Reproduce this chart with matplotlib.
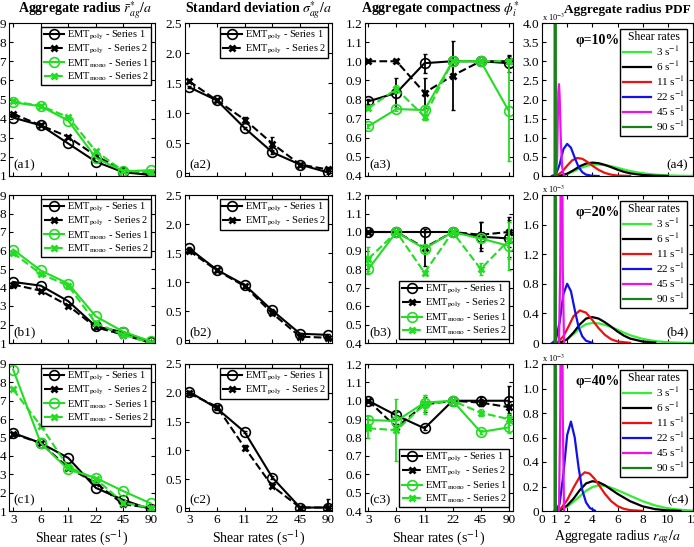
import numpy as np
import matplotlib
matplotlib.use('Agg')
import matplotlib.pyplot as plt

plt.rcParams['font.family'] = ['Liberation Serif', 'DejaVu Serif']
plt.rcParams['mathtext.fontset'] = 'stix'
plt.rcParams['font.size'] = 9.5

# shear rate categories
shear = ['3', '6', '11', '22', '45', '90']
xpos = np.arange(1, 7)

# ---- column 1: aggregate radius (rows a, b, c) ----
rad_poly1 = [[4.05, 3.65, 2.7, 1.75, 1.2, 1.05],
             [4.3, 4.1, 3.26, 1.9, 1.58, 1.05],
             [5.25, 4.7, 3.89, 2.26, 1.6, 1.09]]
rad_poly2 = [[4.25, 3.65, 3.05, 2.05, 1.3, 1.1],
             [4.16, 3.83, 3.02, 1.85, 1.45, 1.0],
             [5.2, 4.7, 3.35, 2.53, 1.36, 1.18]]
rad_mono1 = [[4.85, 4.65, 3.9, 1.95, 1.25, 1.3],
             [6.05, 4.92, 4.21, 2.44, 1.61, 1.09],
             [8.7, 4.7, 3.26, 2.8, 2.08, 1.41]]
rad_mono2 = [[4.9, 4.67, 4.08, 2.3, 1.26, 1.2],
             [5.87, 4.74, 4.1, 2.08, 1.45, 1.0],
             [7.62, 5.64, 3.4, 2.75, 1.45, 1.18]]

# ---- column 2: standard deviation ----
std_poly1 = [[1.43, 1.21, 0.75, 0.345, 0.14, 0.01],
             [1.58, 1.21, 0.95, 0.51, 0.11, 0.09],
             [2.02, 1.73, 1.32, 0.53, 0.01, 0.01]]
std_poly2 = [[1.53, 1.21, 0.89, 0.49, 0.14, 0.06],
             [1.54, 1.2, 0.93, 0.46, 0.06, 0.04],
             [1.99, 1.76, 1.05, 0.38, 0.01, 0.01]]
std_err1 = [[0.02, 0.02, 0.02, 0.02, 0.02, 0.03],
            [0.02, 0.02, 0.02, 0.02, 0.02, 0.02],
            [0.02, 0.02, 0.02, 0.02, 0.02, 0.14]]
std_err2 = [[0.02, 0.02, 0.04, 0.11, 0.02, 0.02],
            [0.02, 0.02, 0.02, 0.02, 0.02, 0.02],
            [0.02, 0.02, 0.04, 0.02, 0.02, 0.02]]

# ---- column 3: compactness ----
cmp_poly1 = [[0.79, 0.835, 0.99, 1.0, 1.0, 0.99],
             [1.0, 1.0, 1.0, 1.0, 0.975, 0.965],
             [1.0, 0.92, 0.85, 1.0, 1.0, 1.0]]
cmp_poly2 = [[1.0, 1.0, 0.835, 0.925, 1.0, 1.0],
             [1.0, 1.0, 0.915, 1.0, 0.985, 1.0],
             [1.0, 0.855, 0.98, 1.0, 0.99, 0.965]]
cmp_mono1 = [[0.66, 0.75, 0.745, 1.0, 1.0, 0.74],
             [0.80, 1.0, 0.91, 1.0, 0.965, 0.925],
             [0.895, 0.89, 0.99, 1.0, 0.83, 0.855]]
cmp_mono2 = [[0.755, 0.855, 0.71, 1.0, 1.0, 1.0],
             [0.855, 1.0, 0.78, 1.0, 0.80, 0.955],
             [0.85, 0.84, 0.98, 1.0, 0.935, 0.90]]
cmp_err_p1 = [[0.015, 0.075, 0.05, 0.0, 0.0, 0.045],
              [0.0, 0.0, 0.0, 0.0, 0.08, 0.1],
              [0.0, 0.02, 0.01, 0.0, 0.02, 0.08]]
cmp_err_p2 = [[0.0, 0.01, 0.08, 0.18, 0.0, 0.03],
              [0.0, 0.0, 0.1, 0.0, 0.07, 0.08],
              [0.0, 0.02, 0.04, 0.0, 0.02, 0.03]]
cmp_err_m1 = [[0.01, 0.01, 0.02, 0.0, 0.0, 0.26],
              [0.02, 0.0, 0.02, 0.0, 0.02, 0.13],
              [0.02, 0.02, 0.04, 0.0, 0.01, 0.03]]
cmp_err_m2 = [[0.01, 0.02, 0.015, 0.0, 0.0, 0.01],
              [0.065, 0.0, 0.01, 0.0, 0.03, 0.1],
              [0.05, 0.17, 0.05, 0.0, 0.02, 0.03]]

# ---- column 4: radius PDFs (x in units of a, y in 1e-3) ----
pdf_labels = ['3 s$^{-1}$', '6 s$^{-1}$', '11 s$^{-1}$', '22 s$^{-1}$', '45 s$^{-1}$', '90 s$^{-1}$']
pdf_colors = ['#33ee33', 'black', '#ee1111', '#1111ee', '#ee11ee', '#1a801a']
phi_labels = ['φ=10%', 'φ=20%', 'φ=40%']

pdf_a = [
    ([1.0, 1.5, 2.0, 2.5, 3.0, 3.5, 4.0, 4.5, 5.0, 5.5, 6.0, 6.5, 7.0, 8.0, 9.0, 10.0, 11.0, 12.0],
     [0, 0.01, 0.05, 0.12, 0.20, 0.26, 0.295, 0.30, 0.285, 0.255, 0.215, 0.17, 0.13, 0.07, 0.035, 0.015, 0.006, 0.002]),
    ([1.0, 1.5, 2.0, 2.5, 3.0, 3.5, 4.0, 4.5, 5.0, 5.5, 6.0, 6.5, 7.0, 8.0, 9.0, 10.0],
     [0, 0.01, 0.06, 0.15, 0.255, 0.325, 0.35, 0.335, 0.29, 0.23, 0.165, 0.11, 0.07, 0.025, 0.007, 0.001]),
    ([0.8, 1.2, 1.6, 2.0, 2.4, 2.8, 3.2, 3.6, 4.0, 4.5, 5.0, 5.5, 6.0, 7.0],
     [0, 0.02, 0.11, 0.27, 0.41, 0.47, 0.45, 0.37, 0.27, 0.16, 0.08, 0.035, 0.012, 0.001]),
    ([0.8, 1.1, 1.4, 1.7, 2.0, 2.3, 2.6, 2.9, 3.2, 3.5, 4.0, 4.5],
     [0, 0.04, 0.3, 0.7, 0.84, 0.74, 0.48, 0.24, 0.1, 0.035, 0.005, 0]),
    ([1.1, 1.2, 1.25, 1.3, 1.35, 1.4, 1.45, 1.5, 1.6, 1.7, 1.8],
     [0, 0.45, 1.4, 2.2, 2.4, 2.1, 1.5, 0.9, 0.25, 0.04, 0]),
    ([1.0, 1.03, 1.07, 1.1], [0, 40, 40, 0]),
]
pdf_b = [
    ([1.0, 1.5, 2.0, 2.5, 3.0, 3.5, 4.0, 4.5, 5.0, 5.5, 6.0, 6.5, 7.0, 8.0, 9.0, 10.0, 11.0, 12.0],
     [0, 0.01, 0.05, 0.12, 0.2, 0.255, 0.27, 0.265, 0.245, 0.215, 0.18, 0.14, 0.105, 0.055, 0.025, 0.01, 0.004, 0.001]),
    ([1.0, 1.5, 2.0, 2.5, 3.0, 3.5, 4.0, 4.5, 5.0, 5.5, 6.0, 6.5, 7.0, 8.0, 9.0],
     [0, 0.01, 0.05, 0.14, 0.25, 0.33, 0.35, 0.33, 0.28, 0.22, 0.155, 0.1, 0.06, 0.02, 0.005]),
    ([0.9, 1.3, 1.7, 2.1, 2.5, 3.0, 3.5, 4.0, 4.5, 5.0, 5.5, 6.0, 7.0],
     [0, 0.02, 0.09, 0.22, 0.36, 0.44, 0.41, 0.31, 0.2, 0.11, 0.05, 0.02, 0.002]),
    ([0.8, 1.1, 1.4, 1.7, 2.0, 2.3, 2.6, 2.9, 3.2, 3.5, 4.0],
     [0, 0.04, 0.28, 0.66, 0.8, 0.7, 0.45, 0.22, 0.09, 0.03, 0.003]),
    ([1.35, 1.45, 1.5, 1.55, 1.6, 1.65, 1.75], [0, 1.0, 3.0, 4.0, 3.0, 1.0, 0]),
    ([1.0, 1.03, 1.07, 1.1], [0, 40, 40, 0]),
]
pdf_c = [
    ([1.0, 1.5, 2.0, 2.5, 3.0, 3.5, 4.0, 4.5, 5.0, 5.5, 6.0, 7.0, 8.0, 9.0, 10.0, 11.0, 12.0],
     [0, 0.01, 0.035, 0.075, 0.12, 0.165, 0.195, 0.21, 0.205, 0.19, 0.17, 0.125, 0.08, 0.045, 0.022, 0.01, 0.004]),
    ([1.0, 1.5, 2.0, 2.5, 3.0, 3.5, 4.0, 4.5, 5.0, 5.5, 6.0, 7.0, 8.0, 9.0, 10.0, 11.0],
     [0, 0.01, 0.045, 0.1, 0.17, 0.225, 0.243, 0.235, 0.21, 0.175, 0.14, 0.08, 0.038, 0.015, 0.005, 0.001]),
    ([1.0, 1.5, 2.0, 2.5, 3.0, 3.4, 3.8, 4.2, 4.6, 5.0, 5.5, 6.0, 6.5, 7.0, 8.0],
     [0, 0.02, 0.09, 0.19, 0.28, 0.316, 0.305, 0.26, 0.2, 0.14, 0.08, 0.04, 0.018, 0.007, 0.001]),
    ([1.1, 1.4, 1.7, 2.0, 2.3, 2.6, 2.9, 3.2, 3.5, 3.8, 4.2],
     [0, 0.06, 0.3, 0.62, 0.73, 0.6, 0.36, 0.17, 0.07, 0.025, 0.003]),
    ([1.35, 1.45, 1.5, 1.55, 1.6, 1.65, 1.75], [0, 0.8, 2.0, 3.0, 2.0, 0.8, 0]),
    ([1.0, 1.03, 1.07, 1.1], [0, 40, 40, 0]),
]
pdf_rows = [pdf_a, pdf_b, pdf_c]
pdf_ylim = [4.0, 2.0, 1.2]
pdf_yticks = [np.arange(0, 4.01, 0.5), np.arange(0, 2.01, 0.4), np.arange(0, 1.21, 0.2)]

GREEN = '#22dd22'
W, H = 694, 547

# axes boxes in pixels (left, right) and (top, bottom)
cols_px = [(9, 155), (185, 332), (365, 513), (542, 693)]
rows_px = [(23, 176), (195, 343), (364, 511)]
row_tags = ['a', 'b', 'c']

fig = plt.figure(figsize=(W / 100, H / 100), dpi=100)


def make_ax(r, c):
    l, rr = cols_px[c]
    t, b = rows_px[r]
    ax = fig.add_axes([l / W, (H - b) / H, (rr - l) / W, (b - t) / H])
    ax.tick_params(direction='in', top=True, right=True, length=3, pad=2)
    return ax


def fmt(v):
    return '0' if abs(v) < 1e-9 else '%.1f' % v


def series(ax, y, err, solid, color, label):
    # error bars first (no legend entry), then the line with markers
    if err is not None:
        ax.errorbar(xpos, y, yerr=err, fmt='none', ecolor=color, elinewidth=1.3, capsize=1.5)
    if solid:
        ax.plot(xpos, y, '-o', color=color, mfc='none', ms=7, mew=1.2, lw=1.5, label=label)
    else:
        ax.plot(xpos, y, '--x', color=color, ms=5, mew=2, lw=1.5, label=label)


LAB = ['EMT$_{\\rm poly}$ - Series 1', 'EMT$_{\\rm poly}$  - Series 2',
       'EMT$_{\\rm mono}$ - Series 1', 'EMT$_{\\rm mono}$ - Series 2']

leg_kw = dict(fontsize=7.5, handlelength=2.0, handletextpad=0.25, labelspacing=0.1,
              borderpad=0.2, borderaxespad=0.35, fancybox=False, framealpha=1,
              edgecolor='black')

for r in range(3):
    # column 1
    ax = make_ax(r, 0)
    series(ax, rad_poly1[r], None, True, 'k', LAB[0])
    series(ax, rad_poly2[r], None, False, 'k', LAB[1])
    series(ax, rad_mono1[r], None, True, GREEN, LAB[2])
    series(ax, rad_mono2[r], None, False, GREEN, LAB[3])
    ax.set_xlim(0.85, 6.15)
    ax.set_ylim(1, 9)
    ax.set_yticks(range(1, 10))
    ax.legend(loc='upper right', **leg_kw)
    ax.text(0.03, 0.05, '(%s1)' % row_tags[r], transform=ax.transAxes, fontsize=9.5)

    # column 2
    ax = make_ax(r, 1)
    series(ax, std_poly1[r], std_err1[r], True, 'k', LAB[0])
    series(ax, std_poly2[r], std_err2[r], False, 'k', LAB[1])
    ax.set_xlim(0.85, 6.15)
    ax.set_ylim(-0.05, 2.5)
    yt = np.arange(0, 2.51, 0.5)
    ax.set_yticks(yt)
    ax.set_yticklabels([fmt(v) for v in yt])
    ax.legend(loc='upper right', **leg_kw)
    ax.text(0.03, 0.05, '(%s2)' % row_tags[r], transform=ax.transAxes, fontsize=9.5)

    # column 3
    ax = make_ax(r, 2)
    series(ax, cmp_poly1[r], cmp_err_p1[r], True, 'k', LAB[0])
    series(ax, cmp_poly2[r], cmp_err_p2[r], False, 'k', LAB[1])
    series(ax, cmp_mono1[r], cmp_err_m1[r], True, GREEN, LAB[2])
    series(ax, cmp_mono2[r], cmp_err_m2[r], False, GREEN, LAB[3])
    ax.set_xlim(0.88, 6.15)
    ax.set_ylim(0.4, 1.2)
    yt = np.arange(0.4, 1.201, 0.1)
    ax.set_yticks(yt)
    ax.set_yticklabels(['%.1f' % v for v in yt])
    if r > 0:
        ax.legend(loc='lower right', **leg_kw)
    ax.text(0.03, 0.05, '(%s3)' % row_tags[r], transform=ax.transAxes, fontsize=9.5)

    # column 4
    ax = make_ax(r, 3)
    for (px, py), lab, col in zip(pdf_rows[r], pdf_labels, pdf_colors):
        ax.plot(px, py, color=col, lw=1.6, label=lab)
    ax.set_xlim(0, 12)
    ax.set_ylim(0, pdf_ylim[r])
    ax.set_xticks([0, 1, 2, 4, 6, 8, 10, 12])
    ax.set_yticks(pdf_yticks[r])
    ax.set_yticklabels([fmt(v) for v in pdf_yticks[r]])
    ax.legend(loc='upper right', title='Shear rates', fontsize=8, title_fontsize=8.5,
              handlelength=2.6, handletextpad=0.4, labelspacing=0.1, borderpad=0.25,
              fancybox=False, framealpha=1, edgecolor='black')
    ax.text(0.37, 0.86, phi_labels[r], transform=ax.transAxes, ha='center',
            fontsize=10, fontweight='bold')
    ax.text(0.0, 1.0, 'x 10$^{-3}$', transform=ax.transAxes, fontsize=6, va='bottom')
    ax.text(0.97, 0.05, '(%s4)' % row_tags[r], transform=ax.transAxes, ha='right', fontsize=9.5)

for i, ax in enumerate(fig.axes):
    r, c = divmod(i, 4)
    if c < 3:
        ax.set_xticks(xpos)
        ax.set_xticklabels(shear if r == 2 else [])
        if r == 2:
            ax.set_xlabel('Shear rates (s$^{-1}$)', fontsize=10, labelpad=2)
    else:
        if r < 2:
            ax.set_xticklabels([])
        else:
            ax.set_xlabel('Aggregate radius $r_{ag}/a$', fontsize=10, labelpad=2)

titles = ['Aggregate radius $\\bar{r}^{*}_{ag}/a$', 'Standard deviation $\\sigma^{*}_{ag}/a$',
          'Aggregate compactness $\\phi^{*}_{i}$', 'Aggregate radius PDF']
title_x = [85, 258, 440, 627]
title_fs = [10, 10, 10, 9.5]
for x, t, fs in zip(title_x, titles, title_fs):
    fig.text(x / W, 1 - 13 / H, t, ha='center', va='baseline',
             fontsize=fs, fontweight='bold')

fig.savefig('out.png', dpi=100)
